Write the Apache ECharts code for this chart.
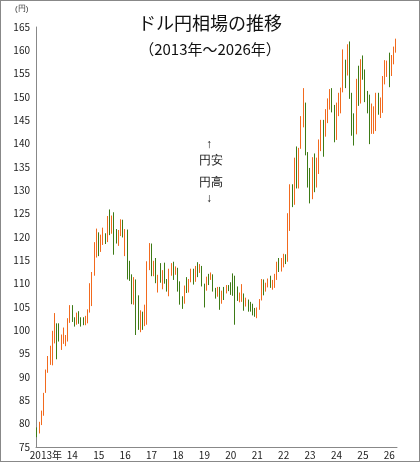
<!DOCTYPE html>
<html><head><meta charset="utf-8">
<script src="https://cdn.jsdelivr.net/npm/echarts@6/dist/echarts.min.js"></script>
<style>html,body{margin:0;padding:0;background:#fff}#c{width:420px;height:462px;box-sizing:border-box;border:1px solid #888}</style>
</head><body><div id="c"></div>
<script>
const startYear = 2012, startMonth = 9;
// [open, close, low, high]
const ohlc = [
[78.0,77.9,77.1,79.2],[77.9,79.8,77.9,80.4],[79.8,82.5,79.7,82.8],[82.5,86.7,81.7,86.6],
[86.7,91.2,86.6,91.6],[91.2,92.6,90.9,94.5],[92.6,94.2,92.6,96.7],[94.2,97.4,92.5,99.9],[97.4,100.5,97.2,103.7],[100.4,99.1,93.8,101.5],[99.2,97.8,97.6,101.5],[97.8,98.1,95.8,99.1],[98.1,98.3,97.1,100.6],[98.3,98.4,96.6,99.0],[98.4,102.4,97.6,102.6],[102.4,105.3,101.6,105.4],
[105.3,102.0,101.8,105.4],[102.0,101.8,100.8,102.8],[101.8,103.2,101.2,103.8],[103.2,102.2,101.4,104.1],[102.2,101.8,100.8,102.8],[101.8,101.3,101.1,102.8],[101.3,102.8,101.1,103.1],[102.8,104.1,101.5,104.5],[104.1,109.6,103.8,110.1],[109.6,112.3,105.2,112.5],[112.3,118.6,111.7,118.9],[118.6,119.7,115.6,121.8],
[119.7,117.5,115.9,121.0],[117.5,119.5,116.8,120.5],[119.5,120.1,118.3,122.0],[120.1,119.4,118.5,120.8],[119.4,124.1,118.9,124.5],[124.1,122.5,120.4,125.9],[122.5,124.0,120.7,124.6],[124.0,121.2,116.2,125.3],[121.2,119.9,118.6,121.7],[119.9,120.6,118.1,121.5],[120.6,123.2,120.2,123.8],[123.2,120.2,119.9,123.7],
[120.2,121.0,115.9,121.7],[121.0,112.7,110.9,121.6],[112.7,112.6,110.6,114.9],[112.6,106.3,105.6,112.0],[106.3,110.7,105.5,111.4],[110.7,103.2,99.0,110.9],[103.2,102.1,100.1,107.5],[102.1,103.4,99.6,104.3],[103.4,101.3,100.1,104.0],[101.3,104.8,100.9,105.5],[104.8,114.5,101.2,114.8],[114.5,117.0,112.9,118.7],
[117.0,112.8,111.6,118.6],[112.8,112.8,111.6,114.9],[112.8,111.4,110.1,115.5],[111.4,111.5,108.1,111.9],[111.5,110.8,110.2,114.4],[110.8,112.4,108.8,112.9],[112.4,110.3,110.0,114.5],[110.3,110.0,108.3,111.0],[110.0,112.5,107.3,113.2],[112.5,113.6,111.7,114.4],[113.6,112.5,110.8,114.7],[112.5,112.7,111.9,113.7],
[112.7,109.2,108.3,113.4],[109.2,106.7,105.5,110.5],[106.7,106.3,104.6,107.3],[106.3,109.3,105.7,109.6],[109.3,108.8,108.0,111.4],[108.8,110.7,108.1,111.0],[110.7,111.8,110.3,113.2],[111.8,111.0,109.8,113.2],[111.0,113.7,110.4,113.8],[113.7,112.9,111.4,114.6],[112.9,113.6,112.3,114.2],[113.6,109.7,109.4,113.8],
[109.7,108.9,104.9,110.0],[108.9,111.4,108.5,111.5],[111.4,110.8,109.7,112.1],[110.8,111.4,110.8,112.4],[111.4,108.3,108.3,112.0],[108.3,107.9,106.8,109.1],[107.9,108.8,107.2,109.3],[108.8,106.3,104.4,109.3],[106.3,108.1,105.7,108.5],[108.1,108.0,106.5,109.3],[108.0,109.5,107.9,109.7],[109.5,108.6,108.4,109.7],
[108.6,108.4,107.6,110.3],[108.4,108.1,107.4,112.2],[108.1,107.5,101.2,111.7],[107.5,106.9,106.3,109.4],[106.9,107.8,106.0,108.1],[107.8,107.9,106.1,109.9],[107.9,105.9,104.2,107.9],[105.9,105.9,105.1,107.0],[105.9,105.5,104.0,106.6],[105.5,104.7,104.0,106.1],[104.7,104.3,103.2,105.7],[104.3,103.2,102.9,104.8],
[103.2,104.7,102.6,104.9],[104.7,106.6,104.4,106.7],[106.6,110.7,106.4,111.0],[110.7,109.3,107.5,110.9],[109.3,109.6,108.3,110.2],[109.6,111.1,109.2,111.1],[111.1,109.7,109.1,111.7],[109.7,110.0,108.7,110.8],[110.0,111.3,109.1,112.1],[111.3,114.0,110.8,114.7],[114.0,113.2,112.5,115.5],[113.2,115.1,112.6,115.5],
[115.1,115.1,113.5,116.4],[115.1,115.0,114.2,116.3],[115.0,121.7,114.7,125.1],[121.7,129.8,121.3,131.3],[129.8,128.7,126.4,131.3],[128.7,135.7,126.9,137.0],[135.7,133.2,130.4,139.4],[133.2,138.9,130.4,139.1],[138.9,144.7,138.9,145.9],[144.7,148.7,143.5,151.9],[148.7,138.0,137.5,148.8],[138.0,131.1,130.6,138.2],
[131.1,130.1,127.2,134.8],[130.1,136.2,128.1,137.1],[136.2,132.8,129.6,137.9],[132.8,136.3,130.6,137.0],[136.3,139.3,133.5,140.9],[139.3,144.3,138.4,145.1],[144.3,142.3,137.2,145.1],[142.3,145.5,141.5,147.4],[145.5,149.4,144.4,149.7],[149.4,151.7,147.3,151.7],[151.7,148.2,146.7,151.9],[148.2,141.0,140.3,148.3],
[141.0,148.0,140.8,148.8],[148.0,150.0,145.9,150.9],[150.0,151.3,146.5,152.0],[151.3,157.8,151.0,160.2],[157.8,157.3,151.9,158.0],[157.3,160.9,154.6,161.3],[160.9,150.0,149.6,161.9],[150.0,146.2,141.7,150.9],[146.2,143.6,139.6,146.5],[143.6,152.0,142.0,153.9],[152.0,149.8,148.1,156.7],[149.8,157.2,148.6,158.1],
[157.2,155.2,153.7,158.9],[155.2,150.6,148.9,155.9],[150.6,149.9,146.5,151.3],[149.9,143.1,139.9,150.5],[143.1,144.0,142.1,148.6],[144.0,144.0,142.1,148.0],[144.0,150.7,142.7,150.9],[150.7,147.1,146.2,150.9],[147.1,147.9,145.5,149.9],[147.9,154.1,146.6,154.5],[154.1,156.2,152.7,157.9],[156.2,156.7,154.3,157.8],
[156.7,155.0,152.1,159.5],[155.0,158.5,154.5,159.0],[158.5,160.5,157.0,160.8],[160.5,162.0,159.5,162.5]
];
const categories = ohlc.map((d,i)=>{const m=startMonth-1+i;const y=startYear+Math.floor(m/12);const mm=m%12+1;return y+'-'+String(mm).padStart(2,'0');});
const yTicks = {min:75,max:165,interval:5};

const chart = echarts.init(document.getElementById('c'));
chart.setOption({
  animation:false,
  textStyle:{fontFamily:'"Noto Sans CJK JP", sans-serif'},
  title:[
    {text:'ドル円相場の推移',left:'center',top:8,textStyle:{fontSize:18,fontWeight:'normal',color:'#111'}},
    {text:'（2013年〜2026年）',left:'center',top:36,textStyle:{fontSize:15,fontWeight:'normal',color:'#111'}}
  ],
  graphic:[
    {type:'text',left:14,top:4,style:{text:'(円)',fontSize:8,fill:'#333'}},
    {type:'text',left:205,top:138,style:{text:'↑',fontSize:12,fill:'#111'}},
    {type:'text',left:198,top:154,style:{text:'円安',fontSize:12,fill:'#111'}},
    {type:'text',left:198,top:176,style:{text:'円高',fontSize:12,fill:'#111'}},
    {type:'text',left:205,top:192,style:{text:'↓',fontSize:12,fill:'#111'}}
  ],
  grid:{left:35,right:22,top:26,bottom:14},
  xAxis:{type:'category',data:categories,boundaryGap:true,
    axisLine:{lineStyle:{color:'#888'}},axisTick:{show:false},
    axisLabel:{interval:(i,v)=>v.endsWith('-01'),fontSize:10,color:'#222',margin:3,
      formatter:v=>{const y=v.slice(0,4);return y==='2013'?'2013年':y.slice(2);}}},
  yAxis:{type:'value',min:yTicks.min,max:yTicks.max,interval:yTicks.interval,
    axisLine:{show:true,lineStyle:{color:'#888'}},axisTick:{show:false},splitLine:{show:false},
    axisLabel:{fontSize:10,color:'#222',margin:6}},
  series:[{type:'candlestick',data:ohlc,barMaxWidth:2.5,
    itemStyle:{color:'#f26a1e',color0:'#3d7a16',borderColor:'#f26a1e',borderColor0:'#3d7a16',borderWidth:1}}]
});
</script></body></html>
